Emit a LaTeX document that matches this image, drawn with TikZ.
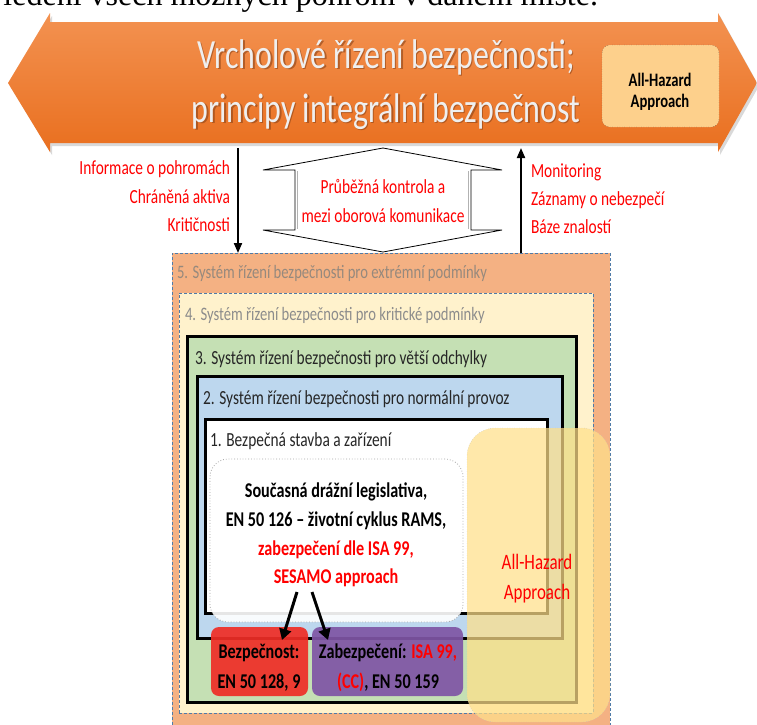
\documentclass[tikz,border=0pt]{standalone}
\usepackage{fontspec}
\setmainfont{Carlito}
\newfontfamily\calib[FakeStretch=0.77]{Carlito}
\newfontfamily\doctext{Liberation Serif}
\usetikzlibrary{arrows.meta}

\definecolor{arrowTop}{HTML}{F39251}
\definecolor{arrowBot}{HTML}{E96F1F}
\definecolor{titleGray}{HTML}{EFEFEF}
\definecolor{titleShadow}{HTML}{8A4318}
\definecolor{hazardTop}{HTML}{FDD08C}
\definecolor{extFill}{HTML}{F4B183}
\definecolor{critFill}{HTML}{FFF2CC}
\definecolor{devFill}{HTML}{C5E0B4}
\definecolor{normFill}{HTML}{BDD7EE}
\definecolor{dashBlue}{HTML}{4F7BA8}
\definecolor{safeRed}{HTML}{EF2D26}
\definecolor{secPurple}{HTML}{7F55A5}
\definecolor{hazardYellow}{HTML}{FFE08A}
\definecolor{labelGray}{HTML}{8C8C8C}
\definecolor{infoRed}{HTML}{FF0000}

\newcommand\fs[1]{\fontsize{#1}{#1}\selectfont}

\tikzset{
  txt/.style={inner sep=0pt, outer sep=0pt},
  title/.style={txt, anchor=base, font=\calib\fs{41.5}},
  redinfo/.style={txt, text=infoRed, font=\calib\fs{20}},
  boxlabel/.style={txt, anchor=base west, font=\calib\fs{19}},
  boldtxt/.style={txt, anchor=base, font=\calib\bfseries\fs{21}},
  layer/.style={inner sep=0pt, outer sep=0pt, anchor=north west},
  dashedlayer/.style={layer, draw=dashBlue, line width=1pt, dash pattern=on 3pt off 2pt},
  solidlayer/.style={layer, draw=black, line width=3pt},
  vflow/.style={line width=2pt, -{Triangle[length=10pt,width=8pt]}},
  pointer/.style={line width=3pt, -{Triangle[length=11pt,width=12pt]}},
}

\begin{document}
\begin{tikzpicture}[x=1pt, y=-1pt]
\useasboundingbox (0,0) rectangle (757,724);
\begin{scope}
\clip (0,0) rectangle (757,724);
\fill[white] (0,0) rectangle (757,724);

% last line of the preceding paragraph
\node[txt, anchor=base east, font=\doctext\fs{32}] (prevline) at (598,5) {ledení všech možných pohrom v daném místě.};

% top management: wide double-headed arrow
\fill[black, opacity=0.15] (10,86) -- (52,16) -- (52,25) -- (720,25) -- (720,16) -- (759,86) -- (720,155) -- (720,146) -- (52,146) -- (52,155) -- cycle;
\shade[top color=arrowTop, bottom color=arrowBot] (8,83) -- (50,13) -- (50,22) -- (718,22) -- (718,13) -- (757,83) -- (718,152) -- (718,143) -- (50,143) -- (50,152) -- cycle;

\node[title, text=titleShadow, opacity=0.6] (t1s) at (387.5,69.5) {Vrcholové řízení bezpečnosti;};
\node[title, text=titleShadow, opacity=0.6] (t2s) at (387.5,123.5) {principy integrální bezpečnost};
\node[title, text=titleGray] (t1) at (386,68) {Vrcholové řízení bezpečnosti;};
\node[title, text=titleGray] (t2) at (386,122) {principy integrální bezpečnost};

\node[layer, draw=black!70, dotted, fill=hazardTop, rounded corners=8pt,
      minimum width=117pt, minimum height=82pt] (ahtop) at (602,45) {};
\node[txt, anchor=base, font=\calib\bfseries\fs{19}] (ahtop1) at (660,86) {All-Hazard};
\node[txt, anchor=base, font=\calib\bfseries\fs{19}] (ahtop2) at (660,107) {Approach};

% nested safety management layers
\node[dashedlayer, fill=extFill, minimum width=438pt, minimum height=480pt] (b5) at (172,253) {};
\node[dashedlayer, fill=critFill, minimum width=414pt, minimum height=420pt] (b4) at (179,293) {};
\node[solidlayer, fill=devFill, minimum width=389pt, minimum height=366pt] (b3) at (187,336) {};
\node[solidlayer, fill=normFill, minimum width=365pt, minimum height=262pt] (b2) at (197,376) {};
\node[solidlayer, fill=white, minimum width=342pt, minimum height=194pt] (b1) at (205,419) {};

\node[boxlabel, text=labelGray!80!brown] (l5) at (177,278) {5. Systém řízení bezpečnosti pro extrémní podmínky};
\node[boxlabel, text=labelGray] (l4) at (185,320) {4. Systém řízení bezpečnosti pro kritické podmínky};
\node[boxlabel, text=black!85, font=\calib\fs{20}] (l3) at (195,364) {3. Systém řízení bezpečnosti pro větší odchylky};
\node[boxlabel, text=black!85, font=\calib\fs{20}] (l2) at (203,404) {2. Systém řízení bezpečnosti pro normální provoz};
\node[boxlabel, text=black!85, font=\calib\fs{20}] (l1) at (210,446) {1. Bezpečná stavba a zařízení};

% current legislation
\node[layer, draw=black!35, dotted, line width=0.8pt, fill=white, fill opacity=0.9,
      rounded corners=18pt, minimum width=253pt, minimum height=163pt] (legis) at (210,459) {};
\node[boldtxt] (lg1) at (336,497) {Současná drážní legislativa,};
\node[boldtxt] (lg2) at (336,526) {EN 50 126 – životní cyklus RAMS,};
\node[boldtxt, text=infoRed] (lg3) at (336,555) {zabezpečení dle ISA 99,};
\node[boldtxt, text=infoRed] (lg4) at (336,583) {SESAMO approach};

% safety and security standards
\node[layer, fill=safeRed, fill opacity=0.92, rounded corners=8pt,
      minimum width=97pt, minimum height=69pt] (safe) at (211,627) {};
\node[layer, fill=secPurple, fill opacity=0.92, rounded corners=8pt,
      minimum width=151pt, minimum height=69pt] (sec) at (312,627) {};
\node[boldtxt] (sf1) at (259,658) {Bezpečnost:};
\node[boldtxt] (sf2) at (259,688) {EN 50 128, 9};
\node[boldtxt] (sc1) at (388,658) {Zabezpečení: \textcolor{infoRed}{ISA 99,}};
\node[boldtxt] (sc2) at (388,688) {\textcolor{infoRed}{(CC)}, EN 50 159};

\coordinate (p1) at (297,592);
\coordinate (p2) at (312,592);
\draw[pointer] (p1) -- (282,640);
\draw[pointer] (p2) -- (328,640);

% all-hazard overlay
\node[layer, draw=black!25, dotted, fill=hazardYellow, fill opacity=0.72,
      rounded corners=28pt, minimum width=143pt, minimum height=294pt] (ahz) at (467,428) {};
\node[boldtxt, font=\calib\fs{22}, text=infoRed] (ahz1) at (537,569) {All-Hazard};
\node[boldtxt, font=\calib\fs{22}, text=infoRed] (ahz2) at (537,599) {Approach};

% information flows between top management and the layers
\coordinate (down0) at (238,148);
\coordinate (up0) at (521,148);
\draw[vflow] (down0) -- (down0 |- b5.north);
\draw[vflow] (up0 |- b5.north) -- (up0);

\node[redinfo, anchor=base east] (i1) at (230,174) {Informace o pohromách};
\node[redinfo, anchor=base east] (i2) at (230,203) {Chráněná aktiva};
\node[redinfo, anchor=base east] (i3) at (230,231) {Kritičnosti};
\node[redinfo, anchor=base west] (m1) at (531,177) {Monitoring};
\node[redinfo, anchor=base west] (m2) at (531,205) {Záznamy o nebezpečí};
\node[redinfo, anchor=base west] (m3) at (531,233) {Báze znalostí};

% continuous control: vertical double-headed arrow
\draw[fill=white, line width=0.8pt, line join=miter] (383,148) -- (502,170) -- (471,170) -- (471,230) -- (502,230) -- (383,252)
  -- (263,230) -- (295,230) -- (295,170) -- (263,170) -- cycle;
\draw[black!30, line width=1.2pt] (297.5,171) -- (297.5,229) (468.5,171) -- (468.5,229);
\node[redinfo, anchor=base] (c1) at (383,193) {Průběžná kontrola a};
\node[redinfo, anchor=base] (c2) at (383,222) {mezi oborová komunikace};
\end{scope}
\end{tikzpicture}
\end{document}
